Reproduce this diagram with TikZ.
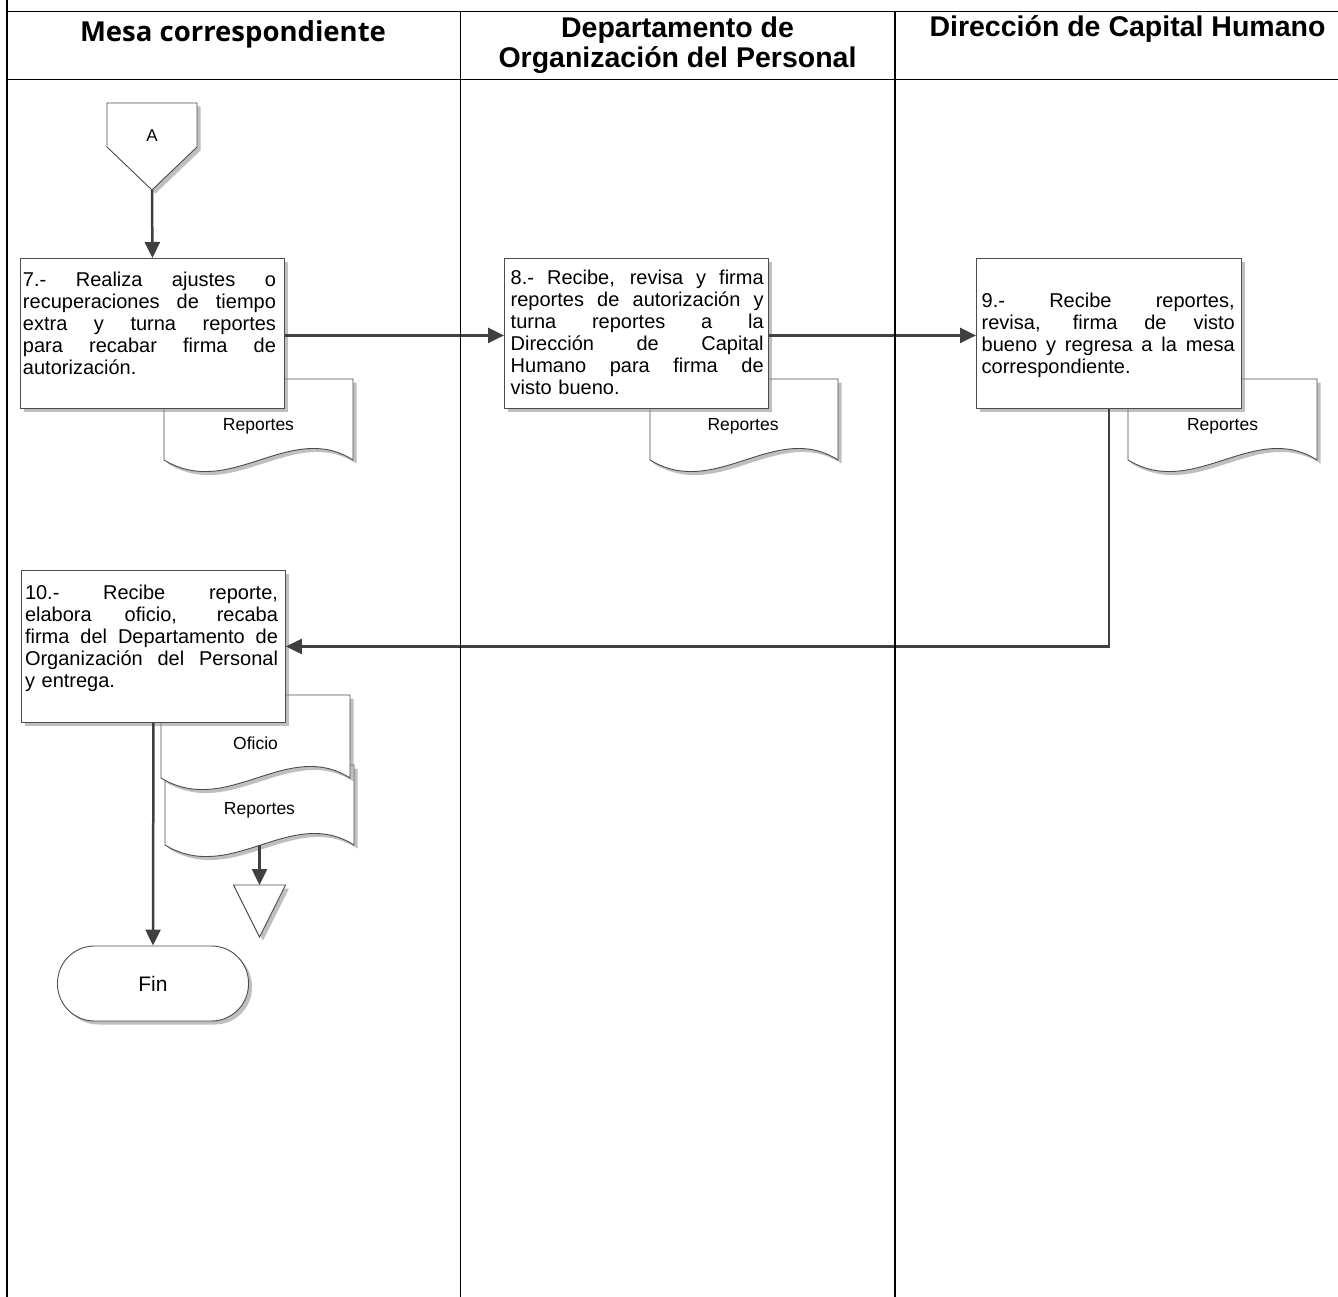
\documentclass[tikz,border=0pt]{standalone}
\usepackage{fontspec}
\setmainfont{Liberation Sans}
\newfontfamily\osfont{Open Sans}
\usetikzlibrary{arrows.meta,shadows,calc}
\newcommand{\jl}[1]{\makebox[253pt][s]{\spaceskip=0pt\xspaceskip=0pt\relax\strut #1}}
\newcommand{\lastln}[1]{\strut #1}
\newcommand{\docshape}[5]{% name, x, y(top), w, h
  \draw[docst] (#2,#3) -- (#2+#4,#3) -- (#2+#4,#3+#5)
    .. controls (#2+0.667*#4,#3+#5-40) and (#2+0.35*#4,#3+#5+40) .. (#2,#3+#5) -- cycle;
  \coordinate (#1top) at (#2+0.5*#4,#3);
  \coordinate (#1bot) at (#2+0.5*#4,#3+#5);}
\begin{document}
\begin{tikzpicture}[x=1pt,y=-1pt,
  shad/.style={drop shadow={shadow xshift=3.5pt,shadow yshift=-3.5pt,fill=black!45,opacity=0.55}},
  proc/.style={draw=black!70,line width=0.9pt,fill=white,shad,minimum width=264pt,minimum height=150pt,anchor=north west,inner sep=0pt},
  docst/.style={draw=black!70,line width=0.9pt,fill=white,shad},
  btext/.style={font=\fontsize{20}{22}\selectfont,inner sep=0pt,text width=253pt,align=left},
  doclabel/.style={font=\fontsize{17.5}{20}\selectfont,inner sep=0pt},
  flow/.style={line width=2.5pt,draw=black!75,-{Triangle[length=16pt,width=15pt]}},
  hfont/.style={font=\bfseries\fontsize{28.5}{30}\selectfont,inner sep=0pt}
]
\useasboundingbox (0,0) rectangle (1338,1297);
\fill[white] (0,0) rectangle (1338,1297);

% headers
\node[font=\osfont\bfseries\fontsize{27.5}{30}\selectfont,anchor=base,inner sep=0pt] (h1) at (233,41.7) {Mesa correspondiente};
\node[hfont,align=center] (h2) at (677.5,46.5) {\strut Departamento de\\\strut Organización del Personal};
\node[hfont,anchor=base] (h3) at (1127.5,37) {Dirección de Capital Humano};

% off-page connector A
\draw[docst] (107,103) -- (197,103) -- (197,147) -- (152,190) -- (107,147) -- cycle;
\coordinate (Aapex) at (152,190);
\node[font=\fontsize{17}{20}\selectfont,inner sep=0pt] (A) at (152,136) {A};

% documents
\docshape{d7}{164}{379}{189}{81}
\node[doclabel] (d7l) at (258.5,426) {Reportes};
\docshape{d8}{650}{379}{188}{81}
\node[doclabel] (d8l) at (743,426) {Reportes};
\docshape{d9}{1128}{379}{189}{81}
\node[doclabel] (d9l) at (1222.5,426) {Reportes};
\docshape{r2}{165}{765}{189}{80}
\node[doclabel] (r2l) at (259.5,810) {Reportes};
\docshape{of}{161}{695}{189}{83}
\node[doclabel] (ofl) at (255.5,743) {Oficio};

% process boxes
\node[proc] (b7) at (20,258) {};
\node[proc] (b8) at (504,258) {};
\node[proc,minimum width=265pt] (b9) at (976,258) {};
\node[proc,minimum height=152pt] (b10) at (21,570) {};

\node[btext] (t7) at (149.5,325.8) {\jl{7.- Realiza ajustes o}\\\jl{recuperaciones de tiempo}\\\jl{extra y turna reportes}\\\jl{para recabar firma de}\\\lastln{autorización.}};
\node[btext] (t8) at (637.2,335.3) {\jl{8.- Recibe, revisa y firma}\\\jl{reportes de autorización y}\\\jl{turna reportes a la}\\\jl{Dirección de Capital}\\\jl{Humano para firma de}\\\lastln{visto bueno.}};
\node[btext] (t9) at (1108.2,336) {\jl{9.- Recibe reportes,}\\\jl{revisa, firma de visto}\\\jl{bueno y regresa a la mesa}\\\lastln{correspondiente.}};
\node[btext] (t10) at (151.5,638.8) {\jl{10.- Recibe reporte,}\\\jl{elabora oficio, recaba}\\\jl{firma del Departamento de}\\\jl{Organización del Personal}\\\lastln{y entrega.}};

% merge triangle
\draw[docst] (233.5,885) -- (285.5,885) -- (259.5,937) -- cycle;
\coordinate (trit) at (259.5,885);

% terminator
\node[draw=black!70,line width=0.9pt,fill=white,shad,rounded corners=37pt,minimum width=191pt,minimum height=75pt,inner sep=0pt,font=\fontsize{21}{24}\selectfont] (fin) at (153,983.5) {Fin};

% connectors
\draw[flow] (Aapex) -- (b7.north);
\draw[flow] ([yshift=-2pt]b7.east) -- ([yshift=-2pt]b8.west);
\draw[flow] ([yshift=-2pt]b8.east) -- ([yshift=-2pt]b9.west);
\draw[flow] (b9.south) |- (b10.east);
\draw[flow] (b10.south) -- (fin.north);
\draw[flow] (r2bot) -- (trit);

% lanes
\draw[line width=1.6pt] (6.7,11.7) -- (1338,11.7);
\draw[line width=1.6pt] (6.7,79.5) -- (1338,79.5);
\draw[line width=2pt] (6.7,0) -- (6.7,1297);
\draw[line width=1.4pt] (460.3,11.7) -- (460.3,1297);
\draw[line width=1.4pt] (895,11.7) -- (895,1297);
\end{tikzpicture}
\end{document}
